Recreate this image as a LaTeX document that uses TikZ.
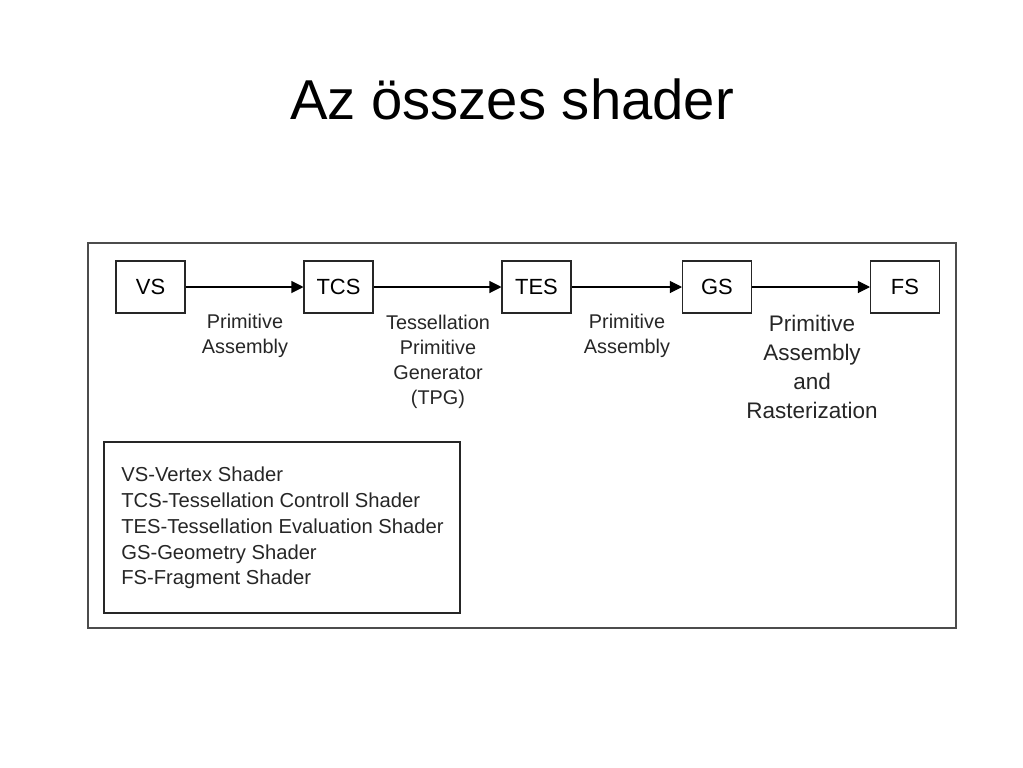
\documentclass[tikz,border=0pt]{standalone}
\usepackage{fontspec}
\setmainfont{Liberation Sans}
\usetikzlibrary{arrows.meta}

\begin{document}
\begin{tikzpicture}[x=0.02cm, y=-0.02cm,
	stage/.style={draw=black!85, line width=0.6pt, minimum width=1.38cm, minimum height=1.04cm, inner sep=0pt, font=\fontsize{12.5}{14}\selectfont},
	flow/.style={-{Triangle[length=2.4mm, width=2.4mm]}, line width=0.6pt},
	note/.style={align=center, inner sep=0pt, text=black!85, font=\fontsize{11.3}{14.2}\selectfont}]
	\useasboundingbox (0,0) rectangle (1023,767);
	\node (title) at (512,99) {\fontsize{32}{38}\selectfont Az összes shader};
	\draw[black!70, line width=0.7pt] (88,243) rectangle (956,628);
	% pipeline stages
	\node[stage] (vs) at (150.5,287) {VS};
	\node[stage] (tcs) at (338.5,287) {TCS};
	\node[stage] (tes) at (536.5,287) {TES};
	\node[stage] (gs) at (717,287) {GS};
	\node[stage] (fs) at (905,287) {FS};
	\draw[flow] (vs) -- (tcs);
	\draw[flow] (tcs) -- (tes);
	\draw[flow] (tes) -- (gs);
	\draw[flow] (gs) -- (fs);
	\node[note] (pa1) at (245,336) {Primitive\\Assembly};
	\node[note] (tpg) at (438,362) {Tessellation\\Primitive\\Generator\\(TPG)};
	\node[note] (pa2) at (627,336) {Primitive\\Assembly};
	\node[note, font=\fontsize{12.8}{16.4}\selectfont] (par) at (812,367) {Primitive\\Assembly\\and\\Rasterization};
	% legend
	\draw[black!85, line width=0.6pt] (104,442) rectangle (460,613);
	\node[note, align=left, anchor=west, font=\fontsize{11.5}{14.7}\selectfont] (legend) at (121,528) {VS-Vertex Shader\\TCS-Tessellation Controll Shader\\TES-Tessellation Evaluation Shader\\GS-Geometry Shader\\FS-Fragment Shader};
\end{tikzpicture}
\end{document}
